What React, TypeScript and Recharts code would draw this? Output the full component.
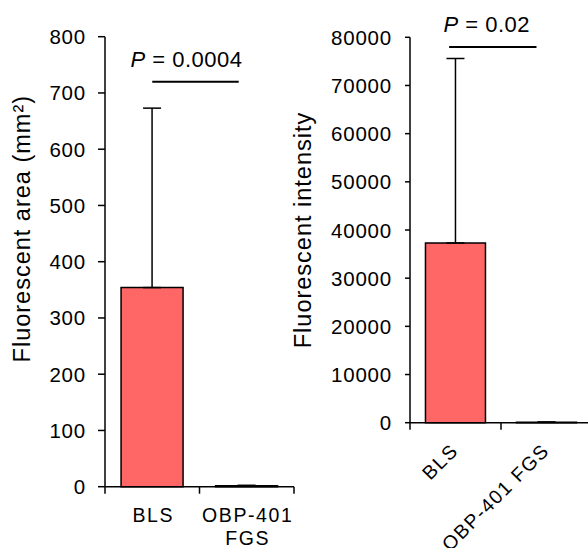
import React from 'react';
import { BarChart, Bar, XAxis, YAxis, ErrorBar, ReferenceLine } from 'recharts';

const groups = ['BLS', 'OBP-401 FGS'];
const groupLines = [['BLS'], ['OBP-401', 'FGS']];

const areaMean = [354, 1.5];
const areaSd = [319, 1];
const areaTicks = [0, 100, 200, 300, 400, 500, 600, 700, 800];
const areaP = '0.0004';
const areaBracketY = 720;
const areaBracketSpan = [0, 0.915];

const intensityMean = [37300, 80];
const intensitySd = [38300, 60];
const intensityTicks = [0, 10000, 20000, 30000, 40000, 50000, 60000, 70000, 80000];
const intensityP = '0.02';
const intensityBracketY = 78000;
const intensityBracketSpan = [-0.07, 0.89];

const FONT = '"Liberation Sans", Arial, sans-serif';
const BAR_FILL = '#ff6666';

const areaData = groups.map((name, i) => ({ name, value: areaMean[i], err: [0, areaSd[i]] }));
const intensityData = groups.map((name, i) => ({ name, value: intensityMean[i], err: [0, intensitySd[i]] }));

const AxisTitle = ({ viewBox, text, dx, dy }: any) => {
  const cx = viewBox.x + dx;
  const cy = viewBox.y + viewBox.height / 2 + dy;
  return (
    <text
      x={cx}
      y={cy}
      transform={`rotate(-90, ${cx}, ${cy})`}
      textAnchor="middle"
      dominantBaseline="central"
      fontSize={23.5}
      letterSpacing={1}
      fill="#000"
    >
      {text}
    </text>
  );
};

// significance bracket + P value, drawn from the reference line's endpoints
const bracketShape = (span: number[], pValue: string, shift: number) => (p: any) => {
  const w = p.x2 - p.x1;
  const a = p.x1 + w * span[0];
  const b = p.x1 + w * span[1];
  const cx = (a + b) / 2 + shift;
  return (
    <g>
      <line x1={a} x2={b} y1={p.y1} y2={p.y1} stroke="#000" strokeWidth={2} />
      <text x={cx} y={p.y1 - 15} textAnchor="middle" fontSize={22} letterSpacing={0.5} fill="#000">
        <tspan fontStyle="italic">P</tspan>
        {' = ' + pValue}
      </text>
    </g>
  );
};

// tick marks sit on the category boundaries, not the band centres
const BoundaryMarks = ({ x, y, payload, visibleTicksCount, len }: any) => {
  const half = payload.offset || 0;
  const last = payload.index === visibleTicksCount - 1;
  return (
    <g>
      <line x1={x - half} x2={x - half} y1={y} y2={y + len} stroke="#000" strokeWidth={1.5} />
      {last && <line x1={x + half} x2={x + half} y1={y} y2={y + len} stroke="#000" strokeWidth={1.5} />}
    </g>
  );
};

const StackTick = (props: any) => {
  const { x, y, payload } = props;
  const lines = groupLines[payload.index] || [payload.value];
  return (
    <g>
      <BoundaryMarks {...props} len={7} />
      <text x={x} y={y} textAnchor="middle" fontSize={19.5} letterSpacing={1.6} fill="#000">
        {lines.map((l, i) => (
          <tspan key={i} x={x + 1} dy={i === 0 ? 35 : 23}>
            {l}
          </tspan>
        ))}
      </text>
    </g>
  );
};

const RotTick = (props: any) => {
  const { x, y, payload } = props;
  const ex = x + 4;
  const ey = y + 29;
  return (
    <g>
      <BoundaryMarks {...props} len={7} />
      <text
        x={ex}
        y={ey}
        transform={`rotate(-45, ${ex}, ${ey})`}
        textAnchor="end"
        fontSize={19.5}
        letterSpacing={1.5}
        fill="#000"
      >
        {payload.value}
      </text>
    </g>
  );
};

const YTick = ({ x, y, payload }: any) => (
  <text x={x} y={y} textAnchor="end" dominantBaseline="central" fontSize={20.5} letterSpacing={0.8} fill="#000">
    {payload.value}
  </text>
);

const axisStroke = { stroke: '#000', strokeWidth: 1.5 };

export default function App() {
  return (
    <div
      style={{
        position: 'absolute',
        left: 0,
        top: 0,
        width: 588,
        height: 548,
        overflow: 'hidden',
        background: '#fff',
        fontFamily: FONT,
      }}
    >
      <div style={{ position: 'absolute', left: 0, top: 0 }}>
        <BarChart
          width={300}
          height={548}
          data={areaData}
          margin={{ top: 36.7, right: 6, bottom: 0, left: 0 }}
          barCategoryGap="17%"
        >
          <XAxis
            dataKey="name"
            height={61.3}
            axisLine={axisStroke}
            tickLine={false}
            tickSize={0}
            tickMargin={0}
            interval={0}
            tick={<StackTick />}
          />
          <YAxis
            domain={[0, 800]}
            ticks={areaTicks}
            width={105}
            axisLine={axisStroke}
            tickLine={axisStroke}
            tickSize={7}
            tickMargin={12}
            tick={<YTick />}
            interval={0}
            label={<AxisTitle text="Fluorescent area (mm²)" dx={22} dy={-33} />}
          />
          <Bar dataKey="value" fill={BAR_FILL} stroke="#000" strokeWidth={1.5} isAnimationActive={false}>
            <ErrorBar dataKey="err" direction="y" width={9} stroke="#000" strokeWidth={1.5} />
          </Bar>
          <ReferenceLine
            ifOverflow="visible"
            segment={[
              { x: groups[0], y: areaBracketY },
              { x: groups[1], y: areaBracketY },
            ]}
            shape={bracketShape(areaBracketSpan, areaP, -9)}
          />
        </BarChart>
      </div>
      <div style={{ position: 'absolute', left: 290, top: 0 }}>
        <BarChart
          width={302}
          height={548}
          data={intensityData}
          margin={{ top: 37.3, right: 0, bottom: 0, left: 0 }}
          barCategoryGap="17%"
        >
          <XAxis
            dataKey="name"
            height={125.3}
            axisLine={axisStroke}
            tickLine={false}
            tickSize={0}
            tickMargin={0}
            interval={0}
            tick={<RotTick />}
          />
          <YAxis
            domain={[0, 80000]}
            ticks={intensityTicks}
            width={120}
            axisLine={axisStroke}
            tickLine={axisStroke}
            tickSize={5}
            tickMargin={13}
            tick={<YTick />}
            interval={0}
            label={<AxisTitle text="Fluorescent intensity" dx={13} dy={0} />}
          />
          <Bar dataKey="value" fill={BAR_FILL} stroke="#000" strokeWidth={1.5} isAnimationActive={false}>
            <ErrorBar dataKey="err" direction="y" width={9} stroke="#000" strokeWidth={1.5} />
          </Bar>
          <ReferenceLine
            ifOverflow="visible"
            segment={[
              { x: groups[0], y: intensityBracketY },
              { x: groups[1], y: intensityBracketY },
            ]}
            shape={bracketShape(intensityBracketSpan, intensityP, -6)}
          />
        </BarChart>
      </div>
    </div>
  );
}
